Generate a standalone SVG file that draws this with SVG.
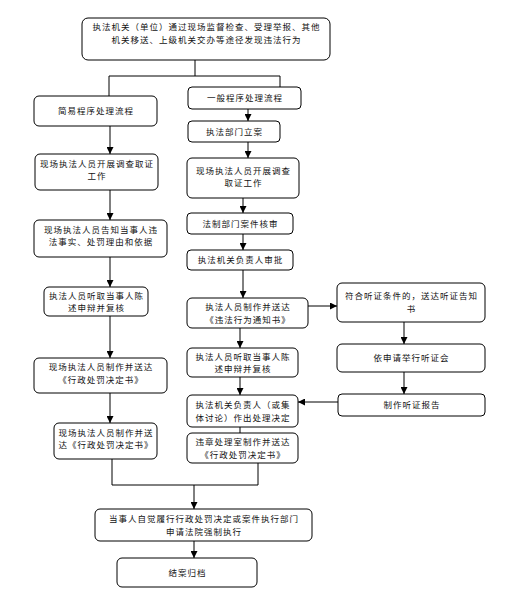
<svg xmlns="http://www.w3.org/2000/svg" width="506" height="602" viewBox="0 0 506 602">
<defs>
<style>
.box{fill:#fff;stroke:#000;stroke-width:1}
.t{font-family:"Noto Sans CJK SC","Noto Sans CJK JP",sans-serif;font-size:8.5px;letter-spacing:1px;fill:#111;text-anchor:middle}
.c{fill:none;stroke:#000;stroke-width:1}
</style>
<marker id="ah" markerWidth="7" markerHeight="7" refX="7" refY="3.5" orient="auto" markerUnits="userSpaceOnUse">
<path d="M0,0 L7,3.5 L0,7 Z" fill="#000"/>
</marker>
</defs>
<rect width="506" height="602" fill="#fff"/>
<g id="connectors">
<path class="c" d="M195,60 V76 M109,76 H280 M109,76 V96 M280,76 V87"/>
<path class="c" d="M110,126 V154" marker-end="url(#ah)"/>
<path class="c" d="M110,190 V220" marker-end="url(#ah)"/>
<path class="c" d="M110,257 V287" marker-end="url(#ah)"/>
<path class="c" d="M110,316 V358" marker-end="url(#ah)"/>
<path class="c" d="M110,393 V423" marker-end="url(#ah)"/>
<path class="c" d="M248,109 V121" marker-end="url(#ah)"/>
<path class="c" d="M248,142 V158" marker-end="url(#ah)"/>
<path class="c" d="M243,198 V213" marker-end="url(#ah)"/>
<path class="c" d="M243,234 V250" marker-end="url(#ah)"/>
<path class="c" d="M243,270 V298" marker-end="url(#ah)"/>
<path class="c" d="M240,328 V348" marker-end="url(#ah)"/>
<path class="c" d="M240,377 V395" marker-end="url(#ah)"/>
<path class="c" d="M240,427 V433"/>
<path class="c" d="M308,306 H337" marker-end="url(#ah)"/>
<path class="c" d="M404,322 V344" marker-end="url(#ah)"/>
<path class="c" d="M404,372 V394" marker-end="url(#ah)"/>
<path class="c" d="M338,402 H298" marker-end="url(#ah)"/>
<path class="c" d="M112,459 V485 H258 V463"/>
<path class="c" d="M194,485 V509" marker-end="url(#ah)"/>
<path class="c" d="M194,541 V558" marker-end="url(#ah)"/>
</g>
<g id="n_top"><rect class="box" x="82" y="18" width="248" height="42" rx="6"/>
<text class="t" x="206.5" y="30">执法机关（单位）通过现场监督检查、受理举报、其他</text>
<text class="t" x="206.5" y="42.5">机关移送、上级机关交办等途径发现违法行为</text></g>
<g id="n_l1"><rect class="box" x="34" y="96" width="123" height="30" rx="5"/>
<text class="t" x="96" y="114">简易程序处理流程</text></g>
<g id="n_l2"><rect class="box" x="35" y="154" width="123" height="36" rx="5"/>
<text class="t" x="97" y="166.7">现场执法人员开展调查取证</text>
<text class="t" x="97" y="179.2">工作</text></g>
<g id="n_l3"><rect class="box" x="34" y="220" width="133" height="37" rx="5"/>
<text class="t" x="101" y="232.7">现场执法人员告知当事人违</text>
<text class="t" x="101" y="245.2">法事实、处罚理由和依据</text></g>
<g id="n_l4"><rect class="box" x="44" y="287" width="104" height="29" rx="5"/>
<text class="t" x="96.5" y="298.5">执法人员听取当事人陈</text>
<text class="t" x="96.5" y="311">述申辩并复核</text></g>
<g id="n_l5"><rect class="box" x="34" y="358" width="133" height="35" rx="5"/>
<text class="t" x="101" y="370.2">现场执法人员制作并送达</text>
<text class="t" x="101" y="382.7">《行政处罚决定书》</text></g>
<g id="n_l6"><rect class="box" x="54" y="423" width="103" height="36" rx="5"/>
<text class="t" x="106" y="435.7">现场执法人员制作并送</text>
<text class="t" x="106" y="448.2">达《行政处罚决定书》</text></g>
<g id="n_r1"><rect class="box" x="188" y="87" width="113" height="22" rx="4"/>
<text class="t" x="245" y="101">一般程序处理流程</text></g>
<g id="n_r2"><rect class="box" x="188" y="121" width="92" height="21" rx="4"/>
<text class="t" x="234.5" y="134.5">执法部门立案</text></g>
<g id="n_r3"><rect class="box" x="187" y="158" width="112" height="40" rx="5"/>
<text class="t" x="243.5" y="173.5">现场执法人员开展调查</text>
<text class="t" x="243.5" y="186">取证工作</text></g>
<g id="n_r4"><rect class="box" x="187" y="213" width="106" height="21" rx="4"/>
<text class="t" x="240.5" y="226.5">法制部门案件核审</text></g>
<g id="n_r5"><rect class="box" x="187" y="250" width="106" height="20" rx="4"/>
<text class="t" x="240.5" y="263">执法机关负责人审批</text></g>
<g id="n_r6"><rect class="box" x="187" y="298" width="121" height="30" rx="5"/>
<text class="t" x="248" y="310">执法人员制作并送达</text>
<text class="t" x="248" y="322.5">《违法行为通知书》</text></g>
<g id="n_r7"><rect class="box" x="187" y="348" width="111" height="29" rx="5"/>
<text class="t" x="243" y="359.5">执法人员听取当事人陈</text>
<text class="t" x="243" y="372">述申辩并复核</text></g>
<g id="n_r8"><rect class="box" x="187" y="395" width="111" height="32" rx="5"/>
<text class="t" x="243" y="408">执法机关负责人（或集</text>
<text class="t" x="243" y="420.5">体讨论）作出处理决定</text></g>
<g id="n_r9"><rect class="box" x="187" y="433" width="111" height="30" rx="5"/>
<text class="t" x="243" y="445">违章处理室制作并送达</text>
<text class="t" x="243" y="457.5">《行政处罚决定书》</text></g>
<g id="n_h1"><rect class="box" x="337" y="283" width="148" height="39" rx="5"/>
<text class="t" x="411.5" y="299.2">符合听证条件的，送达听证告知</text>
<text class="t" x="411.5" y="311.7">书</text></g>
<g id="n_h2"><rect class="box" x="337" y="344" width="148" height="28" rx="5"/>
<text class="t" x="411.5" y="361">依申请举行听证会</text></g>
<g id="n_h3"><rect class="box" x="338" y="394" width="147" height="22" rx="4"/>
<text class="t" x="412" y="408">制作听证报告</text></g>
<g id="n_b1"><rect class="box" x="95" y="509" width="217" height="32" rx="5"/>
<text class="t" x="204" y="522">当事人自觉履行行政处罚决定或案件执行部门</text>
<text class="t" x="204" y="534.5">申请法院强制执行</text></g>
<g id="n_b2"><rect class="box" x="117" y="558" width="140" height="29" rx="5"/>
<text class="t" x="187.5" y="575.5">结案归档</text></g>
</svg>
